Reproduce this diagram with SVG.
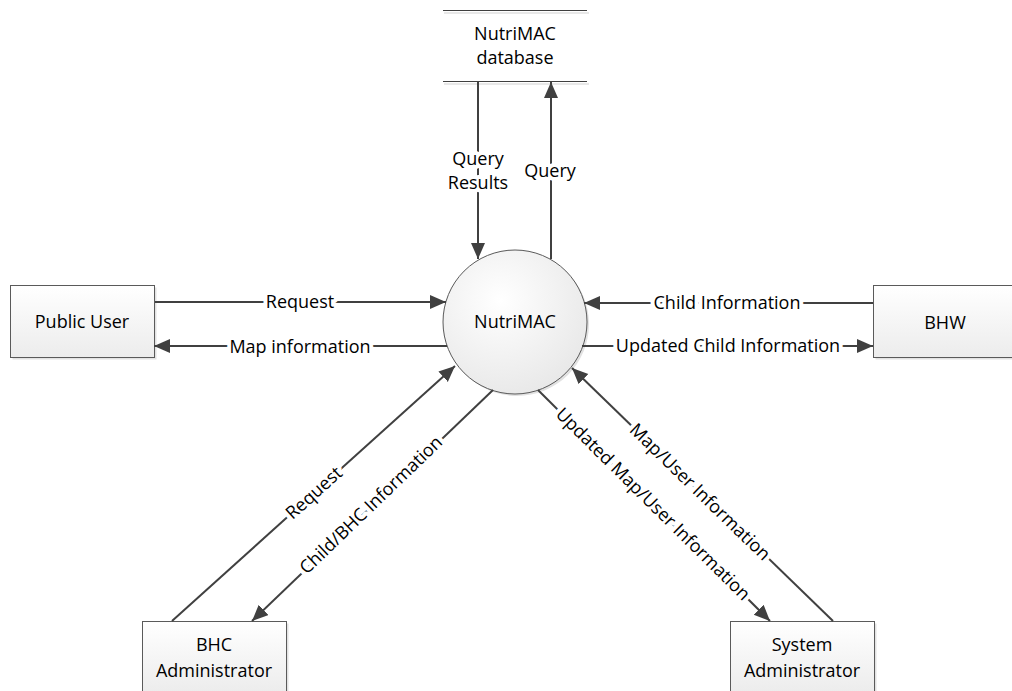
<svg xmlns="http://www.w3.org/2000/svg" width="1012" height="691" viewBox="0 0 1012 691">
<style>
text{font-family:"Open Sans","Liberation Sans",sans-serif;font-size:18px;fill:#000;text-anchor:middle}
.lbl{stroke:#fff;stroke-width:8px;stroke-linejoin:round;paint-order:stroke}
.box{fill:url(#gBox);stroke:#5a5a5a;stroke-width:1}
.shadow{fill:#e2e2e2}
.flow{stroke:#404040;stroke-width:2;fill:none;marker-end:url(#arr)}
.store{stroke:#404040;stroke-width:1.2}
.storeSh{stroke:#e0e0e0;stroke-width:1.5}
</style>
<defs>
<linearGradient id="gBox" x1="0" y1="0" x2="0" y2="1">
<stop offset="0" stop-color="#ffffff"/>
<stop offset="1" stop-color="#ececec"/>
</linearGradient>
<radialGradient id="gCirc" cx="0.4" cy="0.35" r="0.75">
<stop offset="0" stop-color="#ffffff"/>
<stop offset="1" stop-color="#e6e6e6"/>
</radialGradient>
<marker id="arr" markerUnits="userSpaceOnUse" markerWidth="18" markerHeight="16" refX="16" refY="7" orient="auto">
<path d="M0,0 L16,7 L0,14 Z" fill="#404040"/>
</marker>
</defs>
<rect width="1012" height="691" fill="#fff"/>

<g id="datastore">
<line class="storeSh" x1="444" y1="13" x2="589" y2="13"/>
<line class="store" x1="443" y1="10.5" x2="587" y2="10.5"/>
<line class="storeSh" x1="444" y1="84" x2="589" y2="84"/>
<line class="store" x1="443" y1="81.5" x2="587" y2="81.5"/>
<text x="515" y="40">NutriMAC</text>
<text x="515" y="64">database</text>
</g>

<g id="nutrimac">
<circle cx="517" cy="324" r="72" class="shadow"/>
<circle cx="515" cy="322" r="72" fill="url(#gCirc)" stroke="#5a5a5a" stroke-width="1"/>
<text x="515" y="328">NutriMAC</text>
</g>

<g id="public-user">
<rect x="12.5" y="287.5" width="144" height="72" class="shadow"/>
<rect x="10.5" y="285.5" width="144" height="72" class="box"/>
<text x="82" y="328">Public User</text>
</g>

<g id="bhw">
<rect x="875.5" y="287.5" width="144" height="72" class="shadow"/>
<rect x="873.5" y="285.5" width="144" height="72" class="box"/>
<text x="945" y="329">BHW</text>
</g>

<g id="bhc-admin">
<rect x="144.5" y="623.5" width="144" height="72" class="shadow"/>
<rect x="142.5" y="621.5" width="144" height="72" class="box"/>
<text x="214" y="651">BHC</text>
<text x="214" y="677">Administrator</text>
</g>

<g id="system-admin">
<rect x="732.5" y="623.5" width="144" height="72" class="shadow"/>
<rect x="730.5" y="621.5" width="144" height="72" class="box"/>
<text x="802" y="651">System</text>
<text x="802" y="677">Administrator</text>
</g>

<g id="connectors">
<line class="flow" x1="155" y1="302" x2="446" y2="302"/>
<line class="flow" x1="447" y1="346" x2="154" y2="346"/>
<line class="flow" x1="873" y1="303" x2="584" y2="303"/>
<line class="flow" x1="582" y1="346" x2="873" y2="346"/>
<line class="flow" x1="478" y1="82" x2="478" y2="259"/>
<line class="flow" x1="551" y1="259" x2="551" y2="82"/>
<line class="flow" x1="172" y1="621" x2="455" y2="366"/>
<line class="flow" x1="493" y1="390" x2="252" y2="621"/>
<line class="flow" x1="833" y1="621" x2="572" y2="368"/>
<line class="flow" x1="538" y1="390" x2="770" y2="621"/>

<text class="lbl" x="300" y="308">Request</text>
<text class="lbl" x="300" y="353">Map information</text>
<text class="lbl" x="727" y="309">Child Information</text>
<text class="lbl" x="728" y="352">Updated Child Information</text>
<text class="lbl" x="478" y="165">Query</text>
<text class="lbl" x="478" y="189">Results</text>
<text class="lbl" x="550" y="177">Query</text>
<text class="lbl" transform="translate(314,493) rotate(-42)" y="6">Request</text>
<text class="lbl" transform="translate(371,505) rotate(-43.9)" y="6">Child/BHC Information</text>
<text class="lbl" transform="translate(700,492) rotate(44.1)" y="6">Map/User Information</text>
<text class="lbl" transform="translate(653,504) rotate(44.7)" y="6">Updated Map/User Information</text>
</g>
</svg>
